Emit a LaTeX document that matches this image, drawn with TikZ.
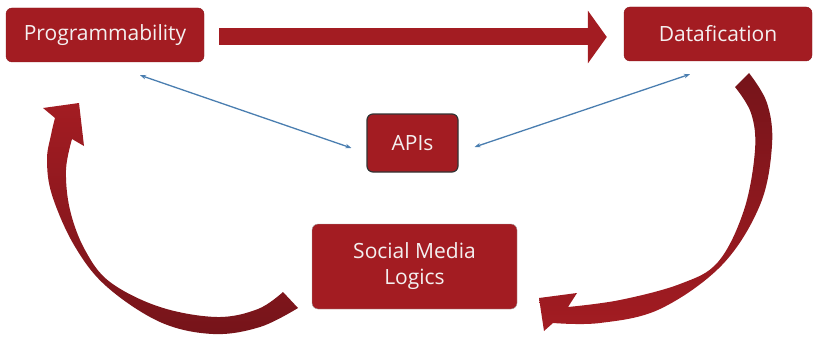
\documentclass[tikz,border=0pt]{standalone}
\usepackage{fontspec}
\setmainfont{Open Sans}
\usetikzlibrary{arrows.meta, positioning}
\definecolor{boxred}{HTML}{A31C22}
\definecolor{boxedge}{HTML}{8A161B}
\definecolor{arrowdark}{HTML}{76141A}
\definecolor{linkblue}{HTML}{4A7EB0}
\definecolor{labelwhite}{HTML}{F4F0F0}

\begin{document}
\begin{tikzpicture}[x=1pt, y=-1pt]
% Define styles
\tikzstyle{stage} = [rectangle, rounded corners=6pt, inner sep=0pt, text centered, draw=boxedge, fill=boxred, text=labelwhite, font=\fontsize{21}{26}\selectfont, align=center]
\tikzstyle{hub} = [stage, draw=black!80, line width=1.2pt]
\tikzstyle{link} = [draw=linkblue, line width=1.3pt, {Stealth[length=6pt,width=4.5pt]}-{Stealth[length=6pt,width=4.5pt]}]
\tikzstyle{flow} = [draw=boxred, line width=17pt, -{Triangle[width=52pt,length=19pt]}]

\useasboundingbox (0,0) rectangle (814,337);

% Nodes
\node (prog) [stage, minimum width=198pt, minimum height=54pt] at (105,35) {Programmability};
\node (data) [stage, minimum width=188pt, minimum height=54pt] at (718,34) {Datafication};
\node (apis) [hub, minimum width=91pt, minimum height=58pt] at (412.5,143) {APIs};
\node (logics) [stage, draw=black!35, minimum width=205pt, minimum height=85pt] at (414.5,266.5) {Social Media\\Logics};

% Arrows
\draw[flow] ([xshift=15pt,yshift=-2pt]prog.east) -- ([xshift=-17pt,yshift=-3pt]data.west);
\draw[link] ([xshift=35pt,yshift=-13pt]prog.south) -- ([xshift=-15pt,yshift=-5pt]apis.west);
\draw[link] ([xshift=16pt,yshift=-4pt]apis.east) -- ([xshift=-28pt,yshift=-13pt]data.south);

% curved arrow, Datafication to Social Media Logics
\shade[top color=arrowdark, bottom color=boxred]
  plot[smooth, tension=0.6] coordinates {(749,73) (767,103) (772,145) (760,205) (722,265) (660,309) (600,323) (553,323)}
  -- (544,331) -- (539,298) -- (577,293) -- (568,307)
  -- plot[smooth, tension=0.6] coordinates {(568,307) (620,300) (680,284) (718,262) (744,210) (755,150) (751,113) (735,87)}
  -- cycle;

% curved arrow, Social Media Logics to Programmability
\shade[top color=boxred, bottom color=arrowdark]
  plot[smooth, tension=0.6] coordinates {(298,308) (260,327) (213,334) (160,322) (106,286) (74,245) (52,195) (47,160) (51,135) (55,118)}
  -- (43,108) -- (79,103) -- (84,146) -- (72,139)
  -- plot[smooth, tension=0.6] coordinates {(72,139) (66,170) (70,210) (85,250) (110,282) (160,307) (217,317) (258,309) (283,292)}
  -- cycle;
\end{tikzpicture}
\end{document}
